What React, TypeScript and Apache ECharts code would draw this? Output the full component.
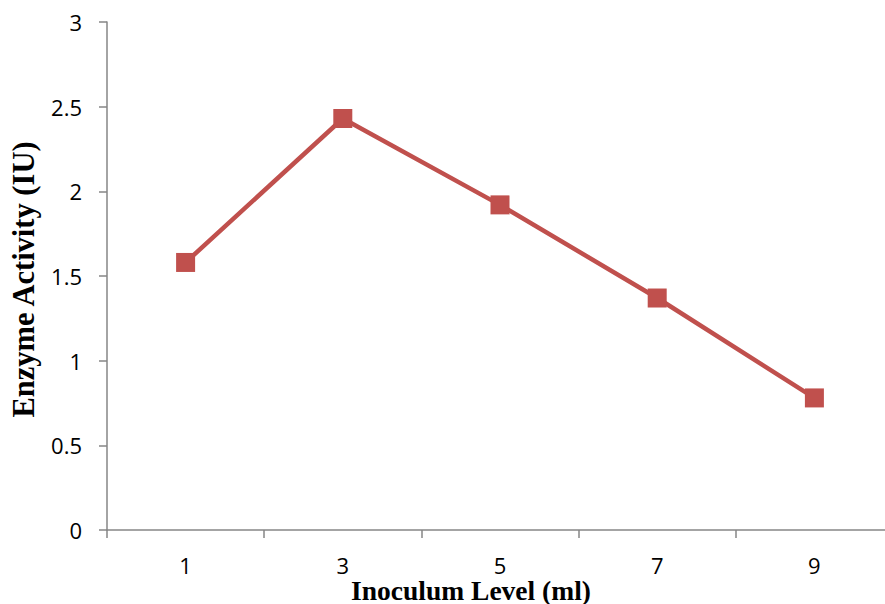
import React, { useEffect, useRef } from "react";
import * as echarts from "echarts";

const categories = ["1", "3", "5", "7", "9"];
const activity = [1.58, 2.43, 1.92, 1.37, 0.78];
const yTicks = [0, 0.5, 1, 1.5, 2, 2.5, 3];

export default function App() {
  const ref = useRef<HTMLDivElement>(null);
  useEffect(() => {
    const chart = echarts.init(ref.current!, null, { renderer: "svg" });
    chart.setOption({
      animation: false,
      backgroundColor: "#ffffff",
      grid: { left: 107, right: -8, top: 22, bottom: 74, containLabel: false, outerBoundsMode: "none" },
      xAxis: {
        type: "category",
        data: categories,
        boundaryGap: true,
        axisLine: { lineStyle: { color: "#868686", width: 1.5 } },
        axisTick: { show: true, length: 8, lineStyle: { color: "#868686", width: 1.5 } },
        axisLabel: { color: "#000", fontSize: 22, lineHeight: 19, fontFamily: "Open Sans", margin: 25 },
        name: "Inoculum Level (ml)",
        nameLocation: "middle",
        nameGap: 46,
        nameMoveOverlap: false,
        nameTextStyle: {
          color: "#000",
          fontSize: 27.5,
          lineHeight: 28,
          fontWeight: "bold",
          fontFamily: "Liberation Serif",
          padding: [0, 58, 0, 0],
        },
      },
      yAxis: {
        type: "value",
        min: 0,
        max: yTicks[yTicks.length - 1],
        interval: 0.5,
        axisLine: { show: true, lineStyle: { color: "#868686", width: 1.5 } },
        axisTick: { show: true, length: 8, lineStyle: { color: "#868686", width: 1.5 } },
        splitLine: { show: false },
        axisLabel: { color: "#000", fontSize: 22, fontFamily: "Open Sans", margin: 25 },
        name: "Enzyme Activity (IU)",
        nameLocation: "middle",
        nameGap: 68,
        nameMoveOverlap: false,
        nameTextStyle: {
          color: "#000",
          fontSize: 30.5,
          fontWeight: "bold",
          fontFamily: "Liberation Serif",
          padding: [0, 7, 0, 0],
        },
      },
      series: [
        {
          type: "line",
          data: activity,
          symbol: "rect",
          symbolSize: 19,
          itemStyle: { color: "#C0504D" },
          lineStyle: { color: "#C0504D", width: 4.5 },
        },
      ],
    });
    return () => chart.dispose();
  }, []);
  return <div ref={ref} style={{ width: 885, height: 604, position: "absolute", left: 0, top: 0 }} />;
}
